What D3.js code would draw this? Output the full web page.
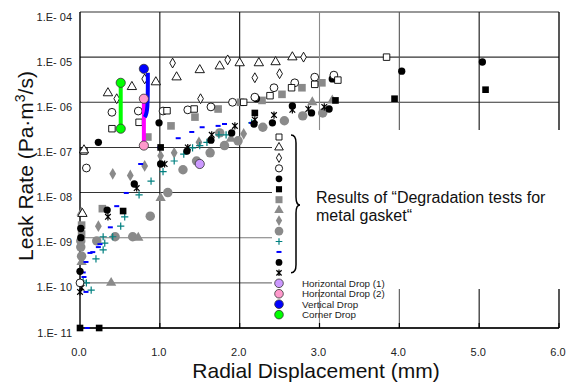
<!DOCTYPE html>
<html>
<head>
<meta charset="utf-8">
<script src="https://cdn.jsdelivr.net/npm/d3@7"></script>
<style>
  html, body { margin: 0; padding: 0; background: #fff; }
  svg { display: block; font-family: Arial, "Liberation Sans", sans-serif; }
</style>
</head>
<body>
<svg id="chart" width="573" height="383"></svg>
<script>
// [radial displacement (mm), leak rate (Pa·m3/s)]
const openSquare = [[0.05, 8.3e-8], [0.40, 2.6e-7], [0.74, 3.6e-7], [1.09, 6.5e-7], [1.43, 7.1e-7], [2.05, 1.0e-6],
  [2.38, 1.4e-6], [2.65, 2.1e-6], [2.94, 2.5e-6], [3.23, 3.1e-6], [3.84, 1.0e-5]];
const openTriangle = [[0.03, 3.4e-9], [0.05, 8.7e-8], [0.35, 1.6e-6], [0.65, 2.2e-6], [0.95, 2.8e-6], [1.21, 3.6e-6],
  [1.50, 5.2e-6], [1.75, 6.3e-6], [2.00, 7.4e-6], [2.24, 7.4e-6], [2.45, 7.8e-6], [2.66, 1.0e-5]];
const openDiamond = [[0.46, 1.2e-6], [0.81, 3.3e-6], [1.16, 7.4e-6], [1.51, 1.2e-6], [1.85, 8.7e-6], [2.19, 3.5e-6],
  [2.50, 4.3e-6], [2.80, 1.0e-5]];
const openCircle = [[0.0, 1.0e-10], [0.08, 3.5e-8], [0.40, 6.0e-7], [0.73, 6.4e-7], [1.04, 6.4e-7], [1.35, 6.8e-7],
  [1.64, 7.9e-7], [1.91, 1.0e-6], [2.19, 1.3e-6], [2.43, 2.1e-6], [2.69, 2.7e-6], [2.94, 3.6e-6], [3.18, 4.0e-6]];
const blackCircleA = [[0.01, 1.6e-9], [0.23, 1.3e-7], [0.99, 3.5e-7], [2.21, 1.2e-6], [3.16, 3.3e-6], [4.03, 4.9e-6],
  [5.04, 7.8e-6]];
const blackSquare = [[0.0, 1.0e-11], [0.24, 1.0e-11], [0.54, 3.9e-9], [1.01, 1.0e-7], [2.19, 5.8e-7], [3.20, 1.1e-6],
  [3.94, 1.2e-6], [5.08, 1.9e-6]];
const graySquare = [[0.02, 1.9e-9], [0.02, 1.2e-9], [0.28, 4.4e-9], [0.85, 1.7e-7], [1.14, 3.0e-7], [1.44, 4.7e-7],
  [1.73, 7.1e-7], [2.01, 1.0e-6], [2.28, 1.1e-6], [2.53, 1.5e-6], [2.78, 2.1e-6], [3.03, 2.7e-6]];
const grayTriangle = [[0.02, 3.6e-9], [0.02, 2.9e-10], [0.39, 1.0e-10], [0.73, 1.0e-9], [1.01, 7.6e-9], [1.89, 1.55e-7],
  [2.91, 1.0e-6], [3.16, 1.1e-6]];
const grayDiamond = [[0.23, 1.8e-9], [0.41, 2.6e-8], [0.63, 2.4e-8], [0.81, 3.9e-8], [1.01, 6.5e-8], [1.18, 7.6e-8],
  [1.49, 1.3e-7], [2.05, 2.0e-7]];
const grayCircle = [[0.01, 6.2e-10], [0.02, 3.9e-10], [0.01, 8.5e-10], [0.21, 8.5e-10], [0.44, 1.05e-9], [0.66, 1.05e-9],
  [0.88, 3.0e-9], [1.10, 1.0e-8], [1.29, 3.2e-8], [1.46, 5.0e-8], [1.63, 7.6e-8], [1.75, 2.1e-7], [1.81, 1.1e-7],
  [1.98, 1.4e-7], [2.29, 2.8e-7], [2.56, 3.9e-7], [2.79, 5.0e-7], [3.04, 5.8e-7]];
const tealPlus = [[0.04, 1.1e-10], [0.08, 1.0e-10], [0.14, 6.9e-11], [0.20, 3.4e-10], [0.29, 5.4e-10], [0.29, 1.05e-9],
  [0.31, 7.6e-10], [0.41, 1.05e-9], [0.51, 1.8e-9], [0.56, 2.9e-9], [0.74, 8.9e-9], [0.89, 1.8e-8], [1.04, 2.9e-8],
  [1.18, 5.0e-8], [1.30, 7.1e-8], [1.41, 9.8e-8], [1.50, 1.1e-7], [1.59, 1.3e-7], [1.74, 1.9e-7], [1.83, 1.9e-7],
  [2.15, 3.5e-7]];
const blueDash = [[0.09, 1.0e-11], [0.075, 6.3e-11], [0.05, 1.35e-10], [0.04, 1.7e-10], [0.075, 2.9e-10], [0.125, 4.6e-10],
  [0.16, 4.8e-10], [0.23, 6.2e-10], [0.25, 7.2e-10], [0.38, 1.7e-9], [0.46, 5.0e-9], [0.58, 9.8e-9], [0.76, 4.3e-8],
  [1.0, 1.0e-7], [1.23, 1.6e-7], [1.40, 2.2e-7], [1.53, 2.8e-7], [1.73, 3.0e-7], [1.81, 3.3e-7], [2.15, 3.5e-7]];
const blackCircleB = [[0.01, 1.0e-9], [0.0, 1.8e-10], [0.34, 4.1e-9], [0.68, 1.55e-8], [1.01, 4.3e-8], [1.34, 8.3e-8],
  [1.64, 1.45e-7], [1.90, 2.1e-7], [2.18, 3.3e-7], [2.41, 3.5e-7], [2.66, 8.3e-7], [2.90, 5.8e-7], [3.12, 7.1e-7]];
const asterisk = [[0.0, 6.3e-11], [0.02, 7.8e-11], [0.35, 2.9e-9], [0.71, 1.26e-8], [1.06, 4.3e-8], [1.35, 1.0e-7],
  [1.65, 1.9e-7], [1.94, 3.0e-7], [2.19, 4.1e-7], [2.43, 5.2e-7], [2.66, 6.8e-7], [2.86, 7.1e-7], [3.06, 7.9e-7]];

const horizontalDrop1 = [[1.50, 4.3e-8]];
const horizontalDrop2 = [[0.80, 1.2e-6], [0.80, 1.1e-7]];
const verticalDrop = [[0.80, 5.5e-6]];
const verticalDropTrace = [[0.85, 4.5e-6], [0.85, 6.0e-7], [0.81, 4.7e-7]];
const cornerDrop = [[0.51, 2.7e-6], [0.51, 2.6e-7]];

const xTicks = [0, 1, 2, 3, 4, 5, 6];
const yTickExponents = [-11, -10, -9, -8, -7, -6, -5, -4];
const dropLabels = ['Horizontal Drop (1)', 'Horizontal Drop (2)', 'Vertical Drop', 'Corner Drop'];
const noteLines = ['Results of \u201CDegradation tests for', 'metal gasket\u201C'];

const x = d3.scaleLinear().domain([0, 6]).range([80, 559]);
const y = d3.scaleLog().domain([1e-11, 1e-4]).range([328, 12]);

const svg = d3.select('#chart');

// custom symbol shapes
const symbolPlus = {
  draw(ctx, size) {
    const r = Math.sqrt(size) / 2;
    ctx.moveTo(-r, 0); ctx.lineTo(r, 0);
    ctx.moveTo(0, -r); ctx.lineTo(0, r);
  }
};
const symbolStar = {
  draw(ctx, size) {
    const r = Math.sqrt(size) / 2;
    ctx.moveTo(0, -r); ctx.lineTo(0, r);
    ctx.moveTo(-r * 0.8, -r * 0.8); ctx.lineTo(r * 0.8, r * 0.8);
    ctx.moveTo(-r * 0.8, r * 0.8); ctx.lineTo(r * 0.8, -r * 0.8);
  }
};
const symbolDash = {
  draw(ctx, size) {
    ctx.rect(-2.5, -1, 5, 2);
  }
};

const styles = {
  openSquare: { type: d3.symbolSquare, size: 42, fill: '#fff', stroke: '#000', sw: 0.9 },
  openTriangle: { type: d3.symbolTriangle, size: 38, fill: '#fff', stroke: '#000', sw: 0.9 },
  openDiamond: { type: d3.symbolDiamond, size: 28, fill: '#fff', stroke: '#000', sw: 0.9 },
  openCircle: { type: d3.symbolCircle, size: 48, fill: '#fff', stroke: '#000', sw: 0.9 },
  blackCircleA: { type: d3.symbolCircle, size: 42, fill: '#000', stroke: 'none', sw: 0 },
  blackSquare: { type: d3.symbolSquare, size: 44, fill: '#000', stroke: 'none', sw: 0 },
  graySquare: { type: d3.symbolSquare, size: 58, fill: '#8a8a8a', stroke: 'none', sw: 0 },
  grayTriangle: { type: d3.symbolTriangle, size: 46, fill: '#8a8a8a', stroke: 'none', sw: 0 },
  grayDiamond: { type: d3.symbolDiamond, size: 40, fill: '#8a8a8a', stroke: 'none', sw: 0 },
  grayCircle: { type: d3.symbolCircle, size: 70, fill: '#8a8a8a', stroke: 'none', sw: 0 },
  tealPlus: { type: symbolPlus, size: 52, fill: 'none', stroke: '#008080', sw: 1.2 },
  blueDash: { type: symbolDash, size: 10, fill: '#0000ff', stroke: 'none', sw: 0 },
  blackCircleB: { type: d3.symbolCircle, size: 42, fill: '#000', stroke: 'none', sw: 0 },
  asterisk: { type: symbolStar, size: 50, fill: 'none', stroke: '#000', sw: 1.2 },
};

const seriesData = {
  openSquare, openTriangle, openDiamond, openCircle, blackCircleA, blackSquare, graySquare,
  grayTriangle, grayDiamond, grayCircle, tealPlus, blueDash, blackCircleB, asterisk,
};
const legendOrder = ['openSquare', 'openTriangle', 'openDiamond', 'openCircle', 'blackCircleA', 'blackSquare',
  'graySquare', 'grayTriangle', 'grayDiamond', 'grayCircle', 'tealPlus', 'blueDash', 'blackCircleB', 'asterisk'];
const drawOrder = ['grayCircle', 'grayDiamond', 'graySquare', 'grayTriangle', 'tealPlus', 'blueDash', 'blackCircleB',
  'asterisk', 'blackSquare', 'blackCircleA', 'openCircle', 'openSquare', 'openDiamond', 'openTriangle'];

const dropStyles = [
  { fill: '#cc99ff', line: null },
  { fill: '#ff99cc', line: '#ff00ff' },
  { fill: '#0000ff', line: '#0000ff' },
  { fill: '#00ff00', line: '#00ff00' },
];

// grid
const hGridColor = e => (e === -9 || e === -10) ? '#7a7a7a' : '#333';
svg.append('g')
  .selectAll('line')
  .data(yTickExponents)
  .join('line')
  .attr('x1', x(0)).attr('x2', x(6))
  .attr('y1', d => y(Math.pow(10, d))).attr('y2', d => y(Math.pow(10, d)))
  .attr('stroke', hGridColor)
  .attr('stroke-width', 1.1);

const vGridColor = { 1: '#111', 2: '#111', 3: '#8a8a8a', 4: '#555', 5: '#111', 6: '#111' };
svg.append('g')
  .selectAll('line')
  .data(xTicks.slice(1))
  .join('line')
  .attr('x1', d => x(d)).attr('x2', d => x(d))
  .attr('y1', y(1e-4)).attr('y2', y(1e-11))
  .attr('stroke', d => vGridColor[d])
  .attr('stroke-width', d => d === 6 ? 1.4 : 1.1);

// white legend panel hiding part of the grid
const box = { x0: 272, y0: 130, x1: 573, y1: 289 };
svg.append('rect')
  .attr('x', box.x0).attr('y', box.y0)
  .attr('width', box.x1 - box.x0).attr('height', box.y1 - box.y0)
  .attr('fill', '#fff');

// axes frame
svg.append('line')
  .attr('x1', x(0)).attr('x2', x(0)).attr('y1', y(1e-4)).attr('y2', y(1e-11))
  .attr('stroke', '#000').attr('stroke-width', 1.4);
svg.append('line')
  .attr('x1', x(0)).attr('x2', x(6)).attr('y1', y(1e-11)).attr('y2', y(1e-11))
  .attr('stroke', '#000').attr('stroke-width', 1.4);
svg.append('g')
  .selectAll('line')
  .data(xTicks.slice(1))
  .join('line')
  .attr('x1', d => x(d)).attr('x2', d => x(d))
  .attr('y1', y(1e-11) - 5).attr('y2', y(1e-11))
  .attr('stroke', '#000').attr('stroke-width', 1.2);

// tick labels
svg.append('g')
  .selectAll('text')
  .data(yTickExponents)
  .join('text')
  .attr('x', 72)
  .attr('y', d => y(Math.pow(10, d)) + 8.5)
  .attr('text-anchor', 'end')
  .attr('font-size', 11)
  .attr('fill', '#222')
  .text(d => '1.E- ' + String(-d).padStart(2, '0'));

svg.append('g')
  .selectAll('text')
  .data(xTicks)
  .join('text')
  .attr('x', d => x(d) - 1)
  .attr('y', 356)
  .attr('text-anchor', 'middle')
  .attr('font-size', 11)
  .attr('fill', '#222')
  .text(d => d.toFixed(1));

// axis titles
svg.append('text')
  .attr('x', 316).attr('y', 378)
  .attr('text-anchor', 'middle')
  .attr('font-size', 21)
  .attr('fill', '#111')
  .text('Radial Displacement (mm)');

const yTitle = svg.append('text')
  .attr('transform', 'translate(33,166) rotate(-90)')
  .attr('text-anchor', 'middle')
  .attr('font-size', 21)
  .attr('fill', '#111');
yTitle.append('tspan').text('Leak Rate (Pa\u00B7m');
yTitle.append('tspan').attr('font-size', 14).attr('dy', -8).text('3');
yTitle.append('tspan').attr('dy', 8).text('/s)');

// data points
const sym = d3.symbol();
const marks = svg.append('g');
drawOrder.forEach(key => {
  const s = styles[key];
  marks.append('g')
    .selectAll('path')
    .data(seriesData[key])
    .join('path')
    .attr('transform', d => `translate(${x(d[0])},${y(d[1])})`)
    .attr('d', sym.type(s.type).size(s.size)())
    .attr('fill', s.fill)
    .attr('stroke', s.stroke)
    .attr('stroke-width', s.sw);
});

// drop test results
const line = d3.line().x(d => x(d[0])).y(d => y(d[1]));
const drops = svg.append('g');
drops.append('path').datum(cornerDrop).attr('d', line)
  .attr('fill', 'none').attr('stroke', dropStyles[3].line).attr('stroke-width', 4);
drops.append('path').datum(horizontalDrop2).attr('d', line)
  .attr('fill', 'none').attr('stroke', dropStyles[1].line).attr('stroke-width', 4);
drops.append('path').datum(verticalDropTrace).attr('d', d3.line().curve(d3.curveBasis).x(d => x(d[0])).y(d => y(d[1])))
  .attr('fill', 'none').attr('stroke', dropStyles[2].line).attr('stroke-width', 4);

[[horizontalDrop1, 0], [horizontalDrop2, 1], [verticalDrop, 2], [cornerDrop, 3]].forEach(([data, i]) => {
  drops.append('g')
    .selectAll('circle')
    .data(data)
    .join('circle')
    .attr('cx', d => x(d[0]))
    .attr('cy', d => y(d[1]))
    .attr('r', 4.6)
    .attr('fill', dropStyles[i].fill)
    .attr('stroke', '#333')
    .attr('stroke-width', 0.8);
});

// legend
const legX = 279, legTop = 137, legStep = 10.45;
const legend = svg.append('g');
legendOrder.forEach((key, i) => {
  const s = styles[key];
  legend.append('path')
    .attr('transform', `translate(${legX},${legTop + i * legStep})`)
    .attr('d', sym.type(s.type).size(s.size * 0.85)())
    .attr('fill', s.fill)
    .attr('stroke', s.stroke)
    .attr('stroke-width', s.sw);
});
dropLabels.forEach((label, i) => {
  const cy = legTop + (legendOrder.length + i) * legStep;
  legend.append('circle')
    .attr('cx', legX).attr('cy', cy).attr('r', 4.3)
    .attr('fill', dropStyles[i].fill)
    .attr('stroke', '#333').attr('stroke-width', 0.8);
  legend.append('text')
    .attr('x', 302).attr('y', cy + 3.4)
    .attr('font-size', 9.8)
    .attr('fill', '#222')
    .text(label);
});

// brace
const bTop = legTop - 2, bBot = legTop + 13 * legStep, bMid = 205, bx = 291;
const brace = d3.path();
brace.moveTo(bx, bTop);
brace.quadraticCurveTo(bx + 5, bTop, bx + 5, bTop + 8);
brace.lineTo(bx + 5, bMid - 8);
brace.quadraticCurveTo(bx + 5, bMid, bx + 9, bMid);
brace.quadraticCurveTo(bx + 5, bMid, bx + 5, bMid + 8);
brace.lineTo(bx + 5, bBot - 8);
brace.quadraticCurveTo(bx + 5, bBot, bx, bBot);
legend.append('path')
  .attr('d', brace.toString())
  .attr('fill', 'none')
  .attr('stroke', '#000')
  .attr('stroke-width', 1.5);

legend.append('g')
  .selectAll('text')
  .data(noteLines)
  .join('text')
  .attr('x', 316)
  .attr('y', (d, i) => 203 + i * 18)
  .attr('font-size', 16)
  .attr('fill', '#111')
  .text(d => d);
</script>
</body>
</html>
